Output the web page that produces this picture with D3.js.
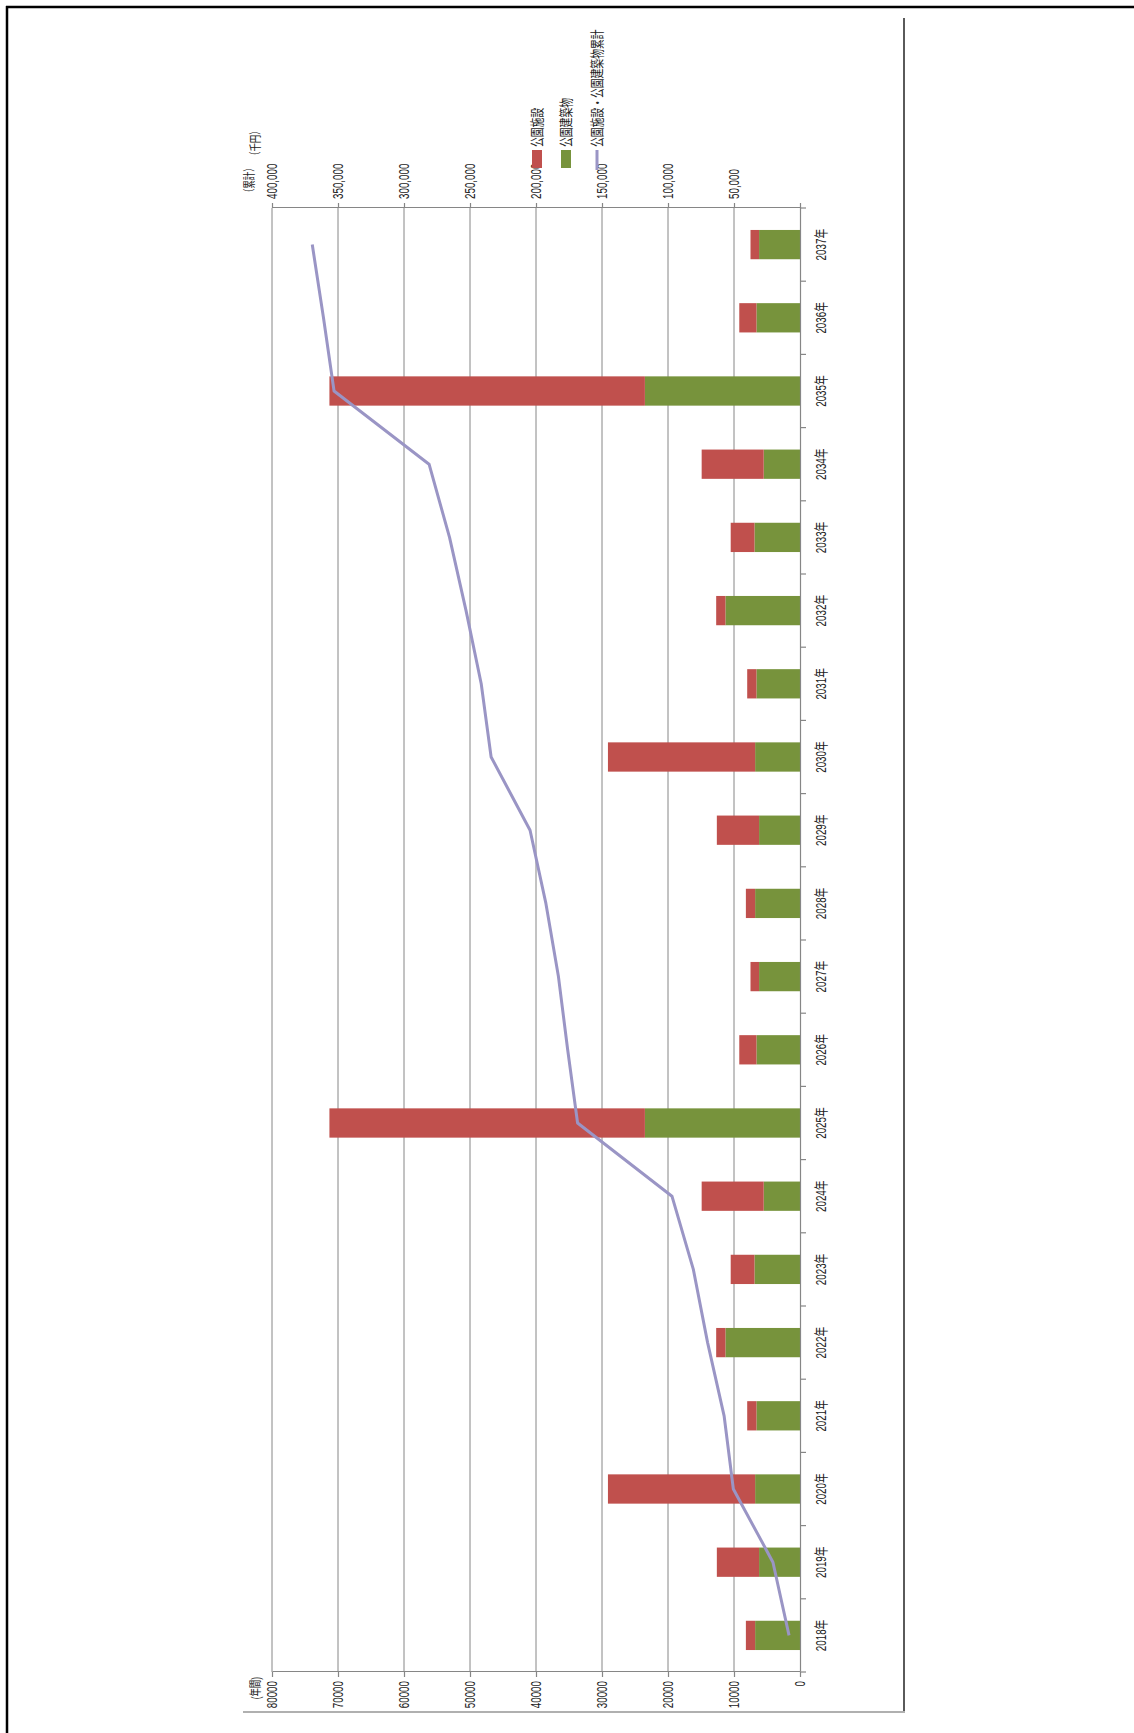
<!DOCTYPE html>
<html>
<head>
<meta charset="utf-8">
<script src="https://cdn.jsdelivr.net/npm/d3@7"></script>
<style>
  body { margin: 0; background: #fff; }
  svg { display: block; }
  text { font-family: "Liberation Sans", "Noto Sans CJK JP", sans-serif; fill: #222; }
</style>
</head>
<body>
<div id="chart"></div>
<script>
// chart values (千円)
var years = ["2018年","2019年","2020年","2021年","2022年","2023年","2024年","2025年","2026年","2027年",
             "2028年","2029年","2030年","2031年","2032年","2033年","2034年","2035年","2036年","2037年"];
var facilityCost = [1400, 6400, 22300, 1400, 1400, 3600, 9400, 47800, 2600, 1300,
                    1400, 6400, 22300, 1400, 1400, 3600, 9400, 47800, 2600, 1300];   // 公園施設
var buildingCost = [6800, 6200, 6800, 6600, 11300, 6900, 5500, 23500, 6600, 6200,
                    6800, 6200, 6800, 6600, 11300, 6900, 5500, 23500, 6600, 6200];   // 公園建築物
var cumulative = [8300, 20500, 50500, 57500, 70000, 80800, 97000, 168500, 176000, 183000,
                  192500, 204500, 234000, 241500, 253000, 265500, 281000, 353000, 361000, 369500];
var annualTicks = [0, 10000, 20000, 30000, 40000, 50000, 60000, 70000, 80000];
var cumulativeTicks = [0, 50000, 100000, 150000, 200000, 250000, 300000, 350000, 400000];
var seriesNames = ["公園施設", "公園建築物", "公園施設・公園建築物累計"];

var redCol = "#c0504d",
    greenCol = "#77933c",
    lineCol = "#9a95c5",
    gridCol = "#868686";

var width = 1134, height = 1733;
var plotLeft = 272, plotRight = 800, plotTop = 208, plotBottom = 1672;
var plotLen = plotBottom - plotTop;     // along the years
var plotDepth = plotRight - plotLeft;   // along the values
var squeeze = 0.7;                      // the text in the picture is narrow

var svg = d3.select("#chart").append("svg")
    .attr("width", width)
    .attr("height", height);

// page frame
svg.append("line").attr("x1", 6).attr("x2", width).attr("y1", 7).attr("y2", 7)
    .attr("stroke", "#000").attr("stroke-width", 2.5);
svg.append("line").attr("x1", 7).attr("x2", 7).attr("y1", 6).attr("y2", height)
    .attr("stroke", "#000").attr("stroke-width", 2.5);
// chart border (right and bottom)
svg.append("line").attr("x1", 904).attr("x2", 904).attr("y1", 18).attr("y2", 1712)
    .attr("stroke", "#5a5a5a").attr("stroke-width", 2);
svg.append("line").attr("x1", 243).attr("x2", 905).attr("y1", 1712).attr("y2", 1712)
    .attr("stroke", "#b0b0b0").attr("stroke-width", 2);

// the whole chart is drawn upright, then turned a quarter turn to the left
var g = svg.append("g")
    .attr("transform", "translate(" + plotLeft + "," + plotBottom + ") rotate(-90)");

var x = d3.scaleBand().domain(years).range([0, plotLen]).padding(0);
var y = d3.scaleLinear().domain([0, 80000]).range([plotDepth, 0]);
var y2 = d3.scaleLinear().domain([0, 400000]).range([plotDepth, 0]);

// gridlines
g.selectAll("line.grid")
    .data(annualTicks.slice(1))
    .enter().append("line")
    .attr("class", "grid")
    .attr("x1", 0).attr("x2", plotLen)
    .attr("y1", function(d) { return y(d); })
    .attr("y2", function(d) { return y(d); })
    .attr("stroke", gridCol).attr("stroke-width", 1);

// stacked bars
var barW = x.bandwidth() * 0.4;
g.selectAll("rect.building")
    .data(years)
    .enter().append("rect")
    .attr("class", "building")
    .attr("x", function(d) { return x(d) + (x.bandwidth() - barW) / 2; })
    .attr("width", barW)
    .attr("y", function(d, i) { return y(buildingCost[i]); })
    .attr("height", function(d, i) { return y(0) - y(buildingCost[i]); })
    .attr("fill", greenCol);

g.selectAll("rect.facility")
    .data(years)
    .enter().append("rect")
    .attr("class", "facility")
    .attr("x", function(d) { return x(d) + (x.bandwidth() - barW) / 2; })
    .attr("width", barW)
    .attr("y", function(d, i) { return y(buildingCost[i] + facilityCost[i]); })
    .attr("height", function(d, i) { return y(buildingCost[i]) - y(buildingCost[i] + facilityCost[i]); })
    .attr("fill", redCol);

// axes
function styleAxis(sel) {
  sel.selectAll("path, line").attr("stroke", gridCol).attr("stroke-width", 1.2);
  sel.selectAll("text").attr("fill", "#222").style("font-size", "14px");
}

// annual axis (bottom of the picture)
var axAnnual = g.append("g")
    .call(d3.axisLeft(y).tickValues(annualTicks).tickSize(5).tickSizeOuter(0).tickFormat(d3.format("d")));
styleAxis(axAnnual);
axAnnual.selectAll("text")
    .attr("x", -9 / squeeze)
    .attr("transform", "scale(" + squeeze + ",1)");

// cumulative axis (top of the picture)
var axCum = g.append("g")
    .attr("transform", "translate(" + plotLen + ",0)")
    .call(d3.axisRight(y2).tickValues(cumulativeTicks).tickSize(5).tickSizeOuter(0)
      .tickFormat(function(d) { return d === 0 ? "" : d3.format(",")(d); }));
styleAxis(axCum);
axCum.selectAll("text")
    .attr("x", 9 / squeeze)
    .attr("transform", "scale(" + squeeze + ",1)");

// year axis (right of the picture)
var axYear = g.append("g")
    .attr("transform", "translate(0," + plotDepth + ")")
    .call(d3.axisBottom(x).tickSize(0).tickSizeOuter(0).tickPadding(16));
styleAxis(axYear);
axYear.selectAll("text").attr("transform", "scale(" + squeeze + ",1)");
axYear.selectAll("line.sep")
    .data(d3.range(years.length + 1))
    .enter().append("line")
    .attr("class", "sep")
    .attr("x1", function(i) { return i * x.step(); })
    .attr("x2", function(i) { return i * x.step(); })
    .attr("y1", 0).attr("y2", 6)
    .attr("stroke", gridCol).attr("stroke-width", 1.2);

// cumulative line
var line = d3.line()
    .x(function(d, i) { return x(years[i]) + x.bandwidth() / 2; })
    .y(function(d) { return y2(d); });

g.append("path")
    .datum(cumulative)
    .attr("d", line)
    .attr("fill", "none")
    .attr("stroke", lineCol)
    .attr("stroke-width", 3)
    .attr("stroke-linejoin", "round");

// unit labels
g.append("text")
    .attr("transform", "translate(-5," + (-16) + ") scale(" + squeeze + ",1)")
    .attr("text-anchor", "end")
    .attr("dy", "0.35em")
    .style("font-size", "12px")
    .text("(年間)");
g.append("text")
    .attr("transform", "translate(" + (plotLen + 11) + "," + (-22) + ") scale(" + squeeze + ",1)")
    .attr("dy", "0.35em")
    .style("font-size", "12px")
    .text("（累計）");
g.append("text")
    .attr("transform", "translate(" + (plotLen + 48) + "," + (-16) + ") scale(" + squeeze + ",1)")
    .attr("dy", "0.35em")
    .style("font-size", "12px")
    .text("（千円）");

// legend
var legendV = [265, 294, 325];
var legend = g.append("g").attr("transform", "translate(" + (plotLen + 38) + ",0)");
legend.append("rect").attr("x", 2).attr("y", legendV[0] - 5).attr("width", 18).attr("height", 10).attr("fill", redCol);
legend.append("rect").attr("x", 2).attr("y", legendV[1] - 5).attr("width", 18).attr("height", 10).attr("fill", greenCol);
legend.append("line").attr("x1", 0).attr("x2", 20).attr("y1", legendV[2]).attr("y2", legendV[2])
    .attr("stroke", lineCol).attr("stroke-width", 3);
legend.selectAll("text.leg")
    .data(seriesNames)
    .enter().append("text")
    .attr("class", "leg")
    .attr("transform", function(d, i) { return "translate(23," + legendV[i] + ") scale(" + squeeze + ",1)"; })
    .attr("dy", "0.35em")
    .style("font-size", "14px")
    .text(function(d) { return d; });
</script>
</body>
</html>
